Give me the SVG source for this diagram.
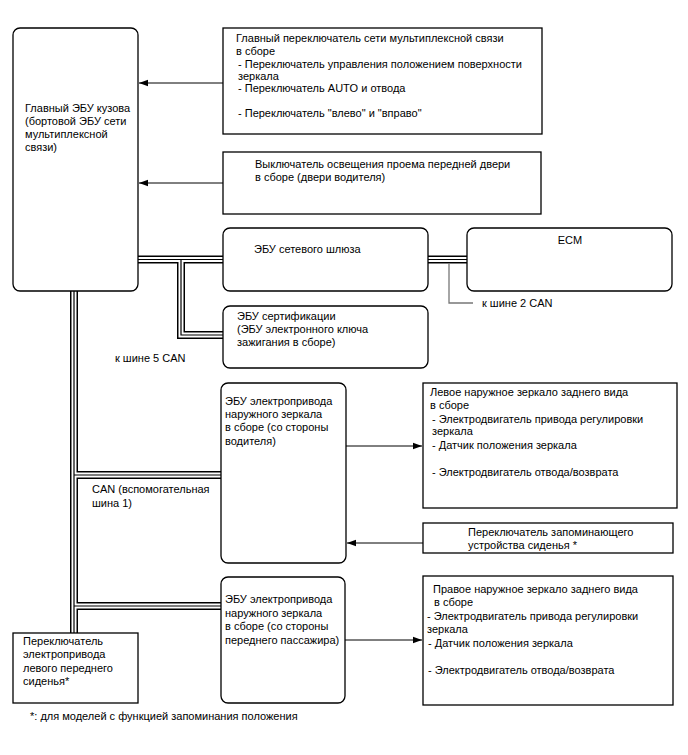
<svg xmlns="http://www.w3.org/2000/svg" xmlns:xlink="http://www.w3.org/1999/xlink" width="688" height="755" viewBox="0 0 688 755">
<style>
.box{fill:#fff;stroke:#000;stroke-width:1.3}
.t{font-family:"Liberation Sans",Arial,sans-serif;font-size:11px;fill:#000}
.arr{fill:none;stroke:#000;stroke-width:1;marker-end:url(#ah)}
.b1{fill:none;stroke:#000;stroke-width:8}
.b2{fill:none;stroke:#fff;stroke-width:5}
.b3{fill:none;stroke:#000;stroke-width:1.2}
.grey{fill:none;stroke:#777;stroke-width:1.3}
</style>
<defs>
<marker id="ah" markerWidth="10" markerHeight="8" refX="9" refY="4" orient="auto" markerUnits="userSpaceOnUse">
<path d="M0,0.8 L9,4 L0,7.2 Z" fill="#000"/>
</marker>
<path id="bus" d="M138,259.5 H223 M181,259.5 V335 H223 M428,259.5 H467 M74,291 V633 M74,475 H221 M74,606 H221"/>
</defs>
<rect width="688" height="755" fill="#fff"/>

<g id="connectors">
<use xlink:href="#bus" class="b1"/>
<use xlink:href="#bus" class="b2"/>
<use xlink:href="#bus" class="b3"/>
<path class="grey" d="M449,263 V303 H473"/>
<path class="arr" d="M223,83 H139"/>
<path class="arr" d="M223,183 H139"/>
<path class="arr" d="M346,446 H422"/>
<path class="arr" d="M423,543 H347"/>
<path class="arr" d="M345,640 H422"/>
</g>

<g id="main-ecu">
<rect class="box" x="13" y="28" width="125" height="263" rx="7"/>
<text class="t" x="25" y="112">Главный ЭБУ кузова</text>
<text class="t" x="25" y="125">(бортовой ЭБУ сети</text>
<text class="t" x="25" y="138">мультиплексной</text>
<text class="t" x="25" y="151">связи)</text>
</g>

<g id="multiplex-switch">
<rect class="box" x="223" y="28" width="319" height="106"/>
<text class="t" x="236" y="42">Главный переключатель сети мультиплексной связи</text>
<text class="t" x="236" y="55">в сборе</text>
<text class="t" x="238" y="68">- Переключатель управления положением поверхности</text>
<text class="t" x="238" y="80">зеркала</text>
<text class="t" x="238" y="92">- Переключатель AUTO и отвода</text>
<text class="t" x="238" y="117">- Переключатель "влево" и "вправо"</text>
</g>

<g id="door-switch">
<rect class="box" x="223" y="152" width="318" height="62"/>
<text class="t" x="255" y="168">Выключатель освещения проема передней двери</text>
<text class="t" x="255" y="181">в сборе (двери водителя)</text>
</g>

<g id="gateway-ecu">
<rect class="box" x="223" y="228" width="205" height="63" rx="7"/>
<text class="t" x="254" y="253">ЭБУ сетевого шлюза</text>
</g>

<g id="ecm">
<rect class="box" x="467" y="228" width="205" height="63" rx="7"/>
<text class="t" x="570" y="244" text-anchor="middle">ECM</text>
</g>
<g id="can2-label">
<text class="t" x="482" y="307">к шине 2 CAN</text>
</g>

<g id="certification-ecu">
<rect class="box" x="223" y="306" width="205" height="62" rx="7"/>
<text class="t" x="237" y="320">ЭБУ сертификации</text>
<text class="t" x="237" y="333">(ЭБУ электронного ключа</text>
<text class="t" x="237" y="346">зажигания в сборе)</text>
</g>
<g id="can5-label">
<text class="t" x="115" y="362">к шине 5 CAN</text>
</g>

<g id="driver-mirror-ecu">
<rect class="box" x="221" y="383" width="125" height="180" rx="7"/>
<text class="t" x="225" y="405">ЭБУ электропривода</text>
<text class="t" x="225" y="418">наружного зеркала</text>
<text class="t" x="225" y="431">в сборе (со стороны</text>
<text class="t" x="225" y="445">водителя)</text>
</g>

<g id="can-sub1-label">
<text class="t" x="92" y="493">CAN (вспомогательная</text>
<text class="t" x="92" y="507">шина 1)</text>
</g>

<g id="left-mirror">
<rect class="box" x="423" y="383" width="254" height="125"/>
<text class="t" x="430" y="396">Левое наружное зеркало заднего вида</text>
<text class="t" x="430" y="409">в сборе</text>
<text class="t" x="432" y="423">- Электродвигатель привода регулировки</text>
<text class="t" x="432" y="435">зеркала</text>
<text class="t" x="432" y="449">- Датчик положения зеркала</text>
<text class="t" x="432" y="476">- Электродвигатель отвода/возврата</text>
</g>

<g id="memory-switch">
<rect class="box" x="423" y="523" width="250" height="30"/>
<text class="t" x="468" y="536">Переключатель запоминающего</text>
<text class="t" x="468" y="549">устройства сиденья *</text>
</g>

<g id="passenger-mirror-ecu">
<rect class="box" x="221" y="577" width="124" height="126" rx="7"/>
<text class="t" x="225" y="603">ЭБУ электропривода</text>
<text class="t" x="225" y="617">наружного зеркала</text>
<text class="t" x="225" y="630">в сборе (со стороны</text>
<text class="t" x="225" y="644">переднего пассажира)</text>
</g>

<g id="right-mirror">
<rect class="box" x="423" y="576" width="250" height="129"/>
<text class="t" x="433" y="593">Правое наружное зеркало заднего вида</text>
<text class="t" x="434" y="606">в сборе</text>
<text class="t" x="427" y="620">- Электродвигатель привода регулировки</text>
<text class="t" x="427" y="633">зеркала</text>
<text class="t" x="428" y="647">- Датчик положения зеркала</text>
<text class="t" x="428" y="674">- Электродвигатель отвода/возврата</text>
</g>

<g id="seat-switch">
<rect class="box" x="13" y="633" width="125" height="70"/>
<text class="t" x="23" y="645">Переключатель</text>
<text class="t" x="23" y="658">электропривода</text>
<text class="t" x="23" y="672">левого переднего</text>
<text class="t" x="23" y="685">сиденья*</text>
</g>

<g id="footnote">
<text class="t" x="30" y="720">*: для моделей с функцией запоминания положения</text>
</g>
</svg>
